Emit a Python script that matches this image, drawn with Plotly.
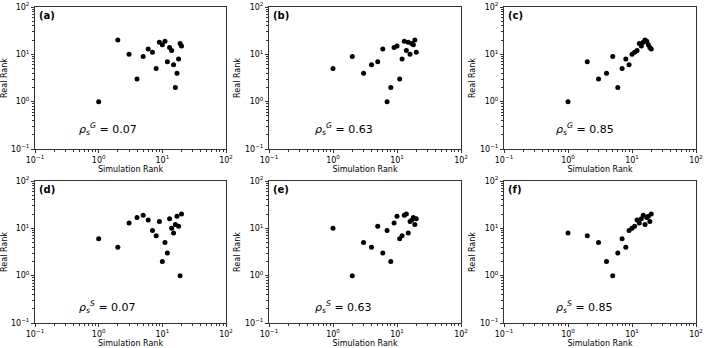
import plotly.graph_objects as go
from plotly.subplots import make_subplots

# simulation rank (same for every panel)
sim_rank = list(range(1, 21))

# real rank
real_a = [1, 20, 10, 3, 9, 13, 11, 5, 18, 16, 19, 7, 14, 12, 6, 2, 4, 8, 17, 15]
real_b = [5, 9, 4, 6, 7, 13, 1, 2, 14, 15, 3, 8, 19, 12, 18, 10, 17, 16, 20, 11]
real_c = [1, 7, 3, 4, 9, 2, 5, 8, 6, 10, 11, 12, 17, 15, 18, 20, 19, 16, 14, 13]
real_d = [6, 4, 13, 17, 19, 15, 9, 7, 14, 2, 5, 3, 16, 10, 8, 12, 18, 11, 1, 20]
real_e = [10, 1, 5, 4, 11, 3, 9, 2, 13, 18, 6, 7, 19, 20, 8, 14, 15, 17, 12, 16]
real_f = [8, 7, 5, 2, 1, 3, 6, 4, 9, 10, 11, 15, 13, 16, 19, 12, 17, 18, 14, 20]

panel_tags = ["(a)", "(b)", "(c)", "(d)", "(e)", "(f)"]
rho_kind = ["G", "G", "G", "S", "S", "S"]
rho_vals = ["0.07", "0.63", "0.85", "0.07", "0.63", "0.85"]

tick_vals = [0.1, 1, 10, 100]
tick_text = ["10<sup>\u22121</sup>", "10<sup>0</sup>", "10<sup>1</sup>", "10<sup>2</sup>"]

W, H = 706, 348
FONT = "DejaVu Sans"

fig = make_subplots(rows=2, cols=3)

series = [real_a, real_b, real_c, real_d, real_e, real_f]
# panel frames in pixels (left, right) and (top, bottom)
cols_px = [(35, 226), (269, 461), (504, 696)]
rows_px = [(7, 149), (181, 323)]
rho_x = [0.22, 0.23, 0.26]
rho_y = [0.14, 0.11]

for k, ys in enumerate(series):
    r, c = k // 3, k % 3
    fig.add_trace(
        go.Scatter(x=sim_rank, y=ys, mode="markers",
                   marker=dict(color="black", size=5),
                   showlegend=False, hoverinfo="skip"),
        row=r + 1, col=c + 1,
    )
    xl, xr = cols_px[c]
    yt, yb = rows_px[r]
    axn = "" if k == 0 else str(k + 1)
    fig.layout["xaxis" + axn].update(domain=[xl / W, xr / W])
    fig.layout["yaxis" + axn].update(domain=[1 - yb / H, 1 - yt / H])

    fig.add_annotation(xref="x" + axn + " domain", yref="y" + axn + " domain",
                       x=0.01, y=0.995, xanchor="left", yanchor="top",
                       text="<b>" + panel_tags[k] + "</b>", showarrow=False,
                       font=dict(size=10, color="black", family=FONT))
    fig.add_annotation(xref="x" + axn + " domain", yref="y" + axn + " domain",
                       x=rho_x[c], y=rho_y[r], xanchor="left", yanchor="middle",
                       text="<i>\u03c1</i><sub><i>s</i></sub><sup><i>" + rho_kind[k]
                            + "</i></sup> = " + rho_vals[k],
                       showarrow=False,
                       font=dict(size=11, color="black", family=FONT))

axis_common = dict(
    type="log", range=[-1, 2], automargin=False,
    tickmode="array", tickvals=tick_vals, ticktext=tick_text,
    ticks="outside", ticklen=3, tickcolor="#333", tickwidth=1,
    minor=dict(ticks="outside", ticklen=2, tickcolor="#333", dtick="D1", showgrid=False),
    showline=True, linecolor="#333", linewidth=1, mirror=True,
    showgrid=False, zeroline=False,
    tickfont=dict(size=8, color="black", family=FONT),
)

fig.update_xaxes(**axis_common,
                 title=dict(text="Simulation Rank", standoff=1,
                            font=dict(size=8, color="black", family=FONT)))
fig.update_yaxes(**axis_common,
                 title=dict(text="Real Rank", standoff=3,
                            font=dict(size=8, color="black", family=FONT)))

fig.update_layout(
    width=W, height=H,
    margin=dict(l=0, r=0, t=0, b=0),
    paper_bgcolor="white", plot_bgcolor="white",
    font=dict(family=FONT),
)

# drop the browser's default body margin so the figure sits at the page corner
fig.write_html("out.html",
               config={"displayModeBar": False},
               post_script="document.body.style.margin='0';document.body.style.overflow='hidden';")
